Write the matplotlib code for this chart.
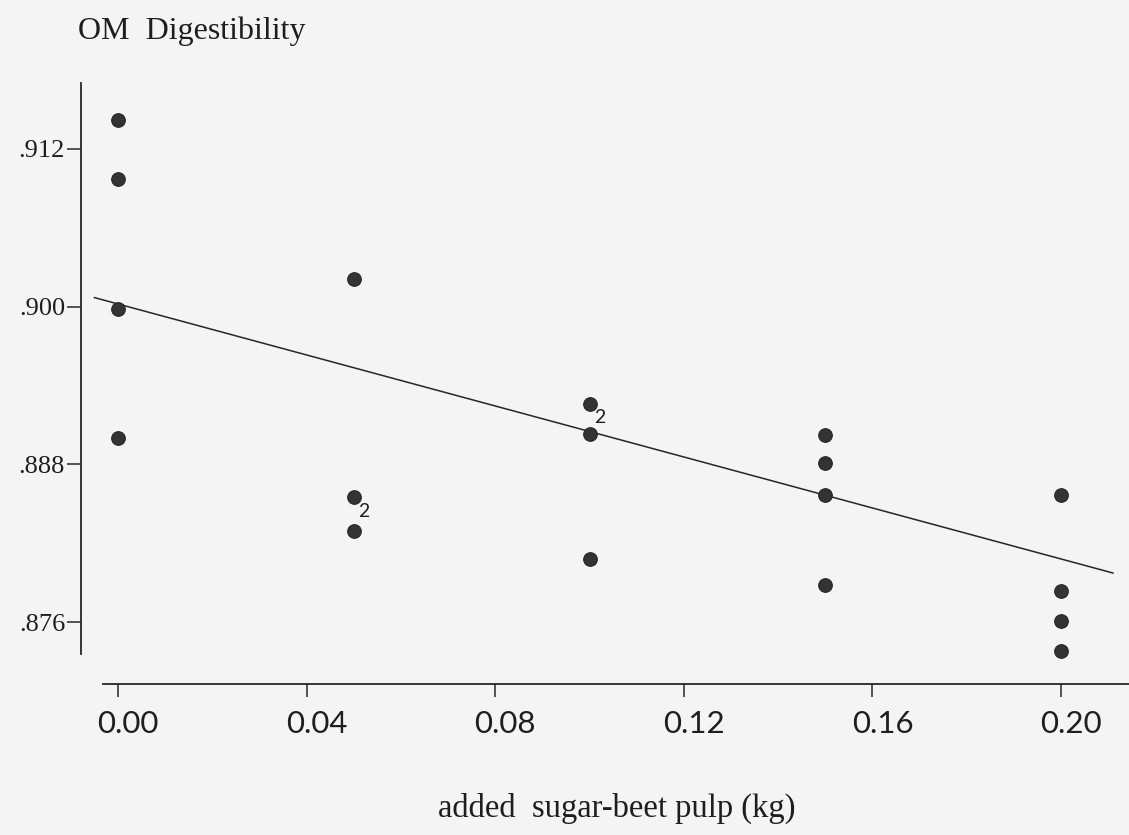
import numpy as np
import matplotlib
matplotlib.use("Agg")
import matplotlib.pyplot as plt
from matplotlib.transforms import ScaledTranslation

# data
pulp_kg = [0.00, 0.00, 0.00, 0.00,
           0.05, 0.05, 0.05,
           0.10, 0.10, 0.10,
           0.15, 0.15, 0.15, 0.15,
           0.20, 0.20, 0.20, 0.20]
om_digest = [0.9142, 0.9097, 0.8998, 0.8900,
             0.9021, 0.8855, 0.8829,
             0.8926, 0.8903, 0.8808,
             0.8902, 0.8881, 0.8857, 0.8788,
             0.8857, 0.8784, 0.8761, 0.8738]

# points that stand for two observations
dup_x = [0.05, 0.10]
dup_y = [0.8855, 0.8926]
dup_label = ["2", "2"]

# fitted line as drawn in the figure
line_intercept = 0.9002
line_slope = -0.097
line_range = [-0.005, 0.211]

x_ticks = [0.00, 0.04, 0.08, 0.12, 0.16, 0.20]
x_ticklabels = ["0.00", "0.04", "0.08", "0.12", "0.16", "0.20"]
y_ticks = [0.876, 0.888, 0.900, 0.912]
y_ticklabels = [".876", ".888", ".900", ".912"]

BG = "#f4f4f4"
INK = "#262626"

fig = plt.figure(figsize=(11.29, 8.35), dpi=100, facecolor=BG)
ax = fig.add_axes([81 / 1129, 1 - 684 / 835, 1048 / 1129, 601 / 835])
ax.set_facecolor(BG)

ax.set_xlim(-0.00785, 0.2144)
ax.set_ylim(0.87129, 0.91701)

# regression line
lx = np.array(line_range)
ax.plot(lx, line_intercept + line_slope * lx, color=INK, lw=1.1, zorder=2)

# observations
ax.plot(pulp_kg, om_digest, "o", ms=9.8, color="#333333", mec="#262626",
        mew=0.8, zorder=3)

for xv, yv, lab in zip(dup_x, dup_y, dup_label):
    ax.annotate(lab, (xv, yv), xytext=(7.5, -10), textcoords="offset points",
                ha="center", va="center", fontsize=14, family="Lato",
                color="#1e1e1e")

# detached axes lines
for side in ["top", "right"]:
    ax.spines[side].set_visible(False)
ax.spines["left"].set_bounds(0.8736, 0.91701)
ax.spines["bottom"].set_bounds(-0.0032, 0.2144)
for side in ["left", "bottom"]:
    ax.spines[side].set_linewidth(1.3)
    ax.spines[side].set_color(INK)

ax.set_xticks(x_ticks)
ax.set_xticklabels(x_ticklabels, family="Lato", fontsize=22.5, color="#1e1e1e")
ax.set_yticks(y_ticks)
ax.set_yticklabels(y_ticklabels, family="Liberation Serif", fontsize=19,
                   color="#1e1e1e")
ax.tick_params(axis="x", direction="out", length=9, width=1.1, color=INK, pad=10)
ax.tick_params(axis="y", direction="out", length=10, width=1.1, color=INK, pad=1.5)

# x labels sit a little to the right of their ticks
shift = ScaledTranslation(10 / 100, 0, fig.dpi_scale_trans)
for lab in ax.get_xticklabels():
    lab.set_transform(lab.get_transform() + shift)

fig.text(78 / 1129, 1 - 31 / 835, "OM  Digestibility", ha="left", va="center",
         family="Liberation Serif", fontsize=23, color="#1e1e1e")
fig.text(617 / 1129, 1 - 808 / 835, "added  sugar-beet pulp (kg)", ha="center",
         va="center", family="Liberation Serif", fontsize=23.5, color="#1e1e1e")

fig.savefig("out.png", dpi=100, facecolor=BG)
